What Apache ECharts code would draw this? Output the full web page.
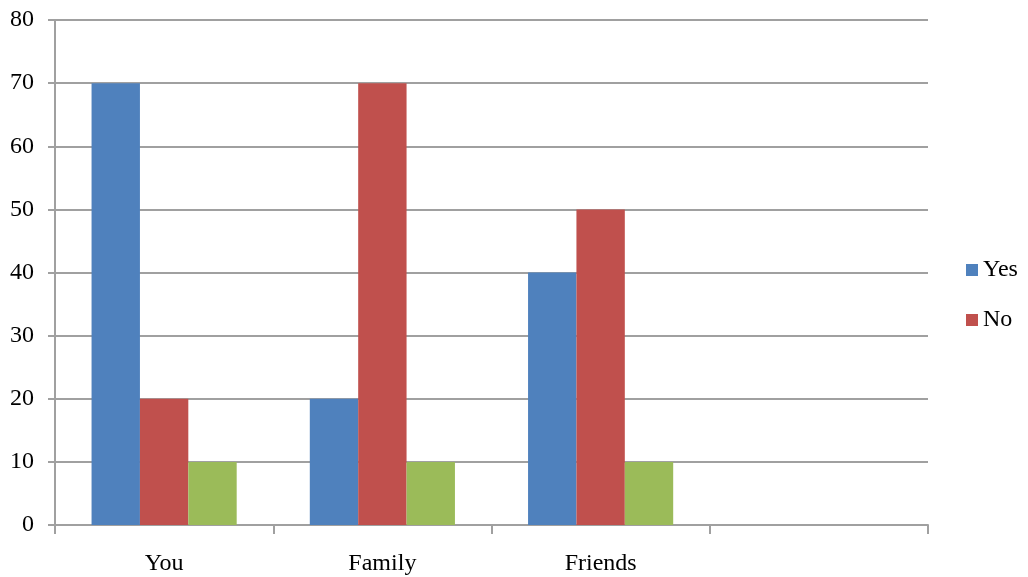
<!DOCTYPE html>
<html>
<head>
<meta charset="utf-8">
<script src="https://cdn.jsdelivr.net/npm/echarts@6/dist/echarts.min.js"></script>
<style>
  html, body { margin: 0; padding: 0; background: #fff; }
  #chart { width: 1028px; height: 577px; }
</style>
</head>
<body>
<div id="chart"></div>
<script>
// categories (last slot is empty in the original)
var categories = ['You', 'Family', 'Friends', ''];
var yesValues = [70, 20, 40, null];
var noValues = [20, 70, 50, null];
var otherValues = [10, 10, 10, null];

var font = "'Liberation Serif', 'DejaVu Serif', serif";
var gridGrey = '#a0a0a0';

var chart = echarts.init(document.getElementById('chart'));
chart.setOption({
  animation: false,
  textStyle: { fontFamily: font },
  grid: { left: 55, right: 100, top: 20, bottom: 52, containLabel: false },
  legend: {
    data: ['Yes', 'No'],
    orient: 'vertical',
    left: 961, top: 253,
    itemWidth: 12, itemHeight: 12, itemGap: 26,
    icon: 'rect',
    textStyle: { fontFamily: font, fontSize: 24, color: '#000' }
  },
  xAxis: {
    type: 'category',
    data: categories,
    axisLine: { lineStyle: { color: gridGrey, width: 2 } },
    axisTick: { show: true, length: 9, lineStyle: { color: gridGrey, width: 2 } },
    axisLabel: { fontFamily: font, fontSize: 24, color: '#000', margin: 27 }
  },
  yAxis: {
    type: 'value',
    min: 0, max: 80, interval: 10,
    axisLine: { show: true, lineStyle: { color: gridGrey, width: 2 } },
    axisTick: { show: true, inside: false, length: 7, lineStyle: { color: gridGrey, width: 2 } },
    splitLine: { lineStyle: { color: gridGrey, width: 2 } },
    axisLabel: { fontFamily: font, fontSize: 24, color: '#000', margin: 21 }
  },
  series: [
    { name: 'Yes', type: 'bar', data: yesValues, barGap: '0%', barCategoryGap: '33.5%',
      itemStyle: { color: '#4F81BD' } },
    { name: 'No', type: 'bar', data: noValues, barGap: '0%', barCategoryGap: '33.5%',
      itemStyle: { color: '#C0504D' } },
    { name: 'Other', type: 'bar', data: otherValues, barGap: '0%', barCategoryGap: '33.5%',
      itemStyle: { color: '#9BBB59' } }
  ]
});
</script>
</body>
</html>
